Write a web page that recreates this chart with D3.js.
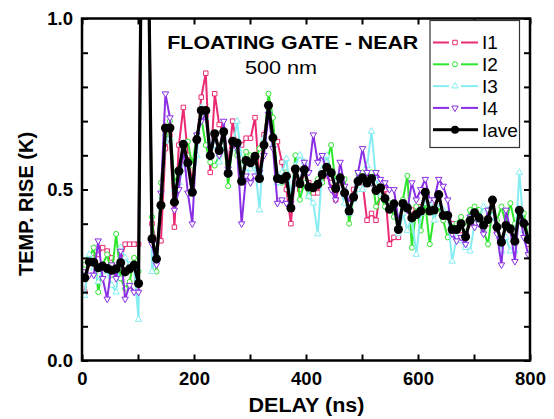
<!DOCTYPE html>
<html>
<head>
<meta charset="utf-8">
<script src="https://cdn.jsdelivr.net/npm/d3@7"></script>
<style>
  html, body { margin: 0; padding: 0; background: #fff; }
  svg { display: block; }
  text { font-family: "Liberation Sans", Arial, Helvetica, sans-serif; }
</style>
</head>
<body>
<svg id="chart" width="554" height="419"></svg>
<script>
// Delay samples (ns)
const delays = [
  5, 13, 21, 29, 37, 45, 53, 61, 69, 77, 85, 93, 101, 109, 117, 125, 133, 141, 149, 157,
  165, 173, 181, 189, 197, 205, 213, 221, 229, 237, 245, 253, 261, 269, 277, 285, 293, 301, 309, 317,
  325, 333, 341, 349, 357, 365, 373, 381, 389, 397, 405, 413, 421, 429, 437, 445, 453, 461, 469, 477,
  485, 493, 501, 509, 517, 525, 533, 541, 549, 557, 565, 573, 581, 589, 597, 605, 613, 621, 629, 637,
  645, 653, 661, 669, 677, 685, 693, 701, 709, 717, 725, 733, 741, 749, 757, 765, 773, 781, 789, 797
];

// Temperature rise (K) for each measurement
const I1 = [
  0.20, 0.29, 0.30, 0.31, 0.33, 0.32, 0.30, 0.26, 0.29, 0.34, 0.34, 0.34, 0.34, 2.10, 1.50, 0.40, 0.34, 0.35, 0.62, 0.66,
  0.39, 0.63, 0.74, 0.60, 0.52, 0.64, 0.77, 0.84, 0.55, 0.78, 0.69, 0.67, 0.57, 0.70, 0.62, 0.63, 0.65, 0.65, 0.71, 0.53,
  0.66, 0.74, 0.65, 0.64, 0.58, 0.50, 0.40, 0.55, 0.50, 0.55, 0.52, 0.49, 0.49, 0.53, 0.54, 0.52, 0.47, 0.52, 0.48, 0.46,
  0.50, 0.52, 0.52, 0.41, 0.43, 0.41, 0.50, 0.50, 0.34, 0.36, 0.36, 0.46, 0.45, 0.44, 0.44, 0.45, 0.48, 0.44, 0.45, 0.48,
  0.43, 0.42, 0.40, 0.38, 0.38, 0.37, 0.40, 0.43, 0.42, 0.40, 0.40, 0.46, 0.38, 0.35, 0.40, 0.38, 0.35, 0.43, 0.40, 0.34
];
const I2 = [
  0.28, 0.30, 0.33, 0.20, 0.28, 0.31, 0.25, 0.37, 0.24, 0.21, 0.23, 0.30, 0.26, 1.90, 1.40, 0.42, 0.26, 0.52, 0.66, 0.70,
  0.52, 0.55, 0.60, 0.64, 0.57, 0.66, 0.71, 0.63, 0.58, 0.57, 0.60, 0.66, 0.51, 0.64, 0.60, 0.57, 0.61, 0.60, 0.58, 0.62,
  0.63, 0.78, 0.71, 0.52, 0.52, 0.55, 0.45, 0.60, 0.47, 0.52, 0.48, 0.51, 0.53, 0.52, 0.58, 0.63, 0.51, 0.54, 0.53, 0.40,
  0.48, 0.55, 0.55, 0.52, 0.55, 0.45, 0.48, 0.45, 0.46, 0.42, 0.40, 0.47, 0.54, 0.33, 0.45, 0.38, 0.46, 0.34, 0.43, 0.45,
  0.41, 0.36, 0.39, 0.40, 0.42, 0.39, 0.44, 0.45, 0.44, 0.38, 0.34, 0.44, 0.41, 0.45, 0.40, 0.46, 0.40, 0.41, 0.43, 0.36
];
const I3 = [
  0.19, 0.31, 0.27, 0.23, 0.27, 0.26, 0.22, 0.20, 0.33, 0.30, 0.28, 0.27, 0.12, 1.80, 1.40, 0.26, 0.31, 0.45, 0.64, 0.65,
  0.50, 0.52, 0.56, 0.58, 0.50, 0.60, 0.74, 0.71, 0.64, 0.63, 0.58, 0.63, 0.56, 0.62, 0.70, 0.59, 0.55, 0.56, 0.57, 0.44,
  0.65, 0.73, 0.63, 0.52, 0.55, 0.59, 0.48, 0.57, 0.60, 0.58, 0.48, 0.46, 0.37, 0.56, 0.60, 0.55, 0.52, 0.50, 0.46, 0.43,
  0.47, 0.50, 0.50, 0.57, 0.67, 0.53, 0.49, 0.47, 0.44, 0.45, 0.37, 0.43, 0.38, 0.42, 0.31, 0.43, 0.47, 0.46, 0.41, 0.46,
  0.44, 0.43, 0.29, 0.36, 0.35, 0.33, 0.32, 0.40, 0.41, 0.45, 0.44, 0.42, 0.39, 0.32, 0.36, 0.32, 0.32, 0.55, 0.38, 0.36
];
const I4 = [
  0.26, 0.25, 0.25, 0.35, 0.24, 0.18, 0.28, 0.24, 0.32, 0.18, 0.22, 0.20, 0.20, 1.90, 1.40, 0.34, 0.28, 0.49, 0.78, 0.71,
  0.44, 0.50, 0.62, 0.49, 0.40, 0.66, 0.70, 0.72, 0.62, 0.66, 0.60, 0.70, 0.56, 0.63, 0.62, 0.40, 0.54, 0.52, 0.54, 0.55,
  0.60, 0.72, 0.62, 0.46, 0.47, 0.46, 0.46, 0.52, 0.52, 0.58, 0.55, 0.66, 0.58, 0.60, 0.55, 0.50, 0.47, 0.58, 0.51, 0.46,
  0.48, 0.55, 0.62, 0.55, 0.52, 0.55, 0.53, 0.52, 0.50, 0.50, 0.41, 0.45, 0.44, 0.52, 0.47, 0.50, 0.53, 0.47, 0.47, 0.53,
  0.51, 0.47, 0.37, 0.35, 0.36, 0.34, 0.42, 0.39, 0.40, 0.37, 0.44, 0.46, 0.37, 0.28, 0.44, 0.38, 0.29, 0.44, 0.36, 0.31
];
const Iave = [
  0.242, 0.288, 0.287, 0.271, 0.276, 0.269, 0.264, 0.268, 0.286, 0.259, 0.268, 0.279, 0.225, 1.900, 1.400, 0.356, 0.297, 0.454, 0.680, 0.680,
  0.463, 0.554, 0.632, 0.578, 0.492, 0.646, 0.731, 0.731, 0.599, 0.663, 0.614, 0.669, 0.547, 0.641, 0.636, 0.524, 0.585, 0.578, 0.597, 0.532,
  0.630, 0.746, 0.651, 0.532, 0.529, 0.539, 0.446, 0.560, 0.517, 0.558, 0.507, 0.505, 0.515, 0.544, 0.565, 0.549, 0.503, 0.534, 0.490, 0.437,
  0.478, 0.524, 0.534, 0.519, 0.532, 0.497, 0.505, 0.474, 0.442, 0.458, 0.383, 0.459, 0.446, 0.417, 0.427, 0.437, 0.492, 0.437, 0.440, 0.485,
  0.424, 0.424, 0.383, 0.383, 0.400, 0.362, 0.409, 0.432, 0.417, 0.396, 0.412, 0.469, 0.390, 0.346, 0.395, 0.385, 0.349, 0.439, 0.401, 0.354
];

const seriesNames = ["I1", "I2", "I3", "I4", "Iave"];
const seriesValues = [I1, I2, I3, I4, Iave];
const seriesColors = ["#ea2a72", "#2ee62e", "#86eef2", "#8a2ee6", "#000000"];
const seriesSymbols = ["square", "circle", "triangleUp", "triangleDown", "dot"];

const xTicks = [0, 100, 200, 300, 400, 500, 600, 700, 800];
const yTicks = [0, 0.1, 0.2, 0.3, 0.4, 0.5, 0.6, 0.7, 0.8, 0.9, 1.0];
const xLabelled = [0, 200, 400, 600, 800];
const yLabelled = [0, 0.5, 1.0];

const svg = d3.select("#chart");
const plotLeft = 82, plotRight = 530, plotTop = 18.5, plotBottom = 360.5;

const x = d3.scaleLinear().domain([0, 800]).range([plotLeft, plotRight]);
const y = d3.scaleLinear().domain([0, 1]).range([plotBottom, plotTop]);

svg.append("defs").append("clipPath").attr("id", "plotClip")
  .append("rect").attr("x", plotLeft).attr("y", plotTop)
  .attr("width", plotRight - plotLeft).attr("height", plotBottom - plotTop);

const plot = svg.append("g").attr("clip-path", "url(#plotClip)");

function markerPath(kind) {
  switch (kind) {
    case "square": return d3.symbol(d3.symbolSquare, 20)();
    case "circle": return d3.symbol(d3.symbolCircle, 20)();
    case "triangleUp": return d3.symbol(d3.symbolTriangle, 18)();
    case "triangleDown": return d3.symbol(d3.symbolTriangle, 18)();
    default: return d3.symbol(d3.symbolCircle, 64)();
  }
}

const line = d3.line().x(d => x(d[0])).y(d => y(d[1]));

seriesValues.forEach((vals, si) => {
  const pts = delays.map((d, i) => [d, vals[i]]);
  const isAve = si === 4;
  const g = plot.append("g");
  g.append("path").datum(pts)
    .attr("d", line)
    .attr("fill", "none")
    .attr("stroke", seriesColors[si])
    .attr("stroke-width", isAve ? 3.2 : 2)
    .attr("stroke-linejoin", "round");
  g.selectAll("path.mk").data(pts).join("path")
    .attr("class", "mk")
    .attr("d", markerPath(seriesSymbols[si]))
    .attr("transform", d => `translate(${x(d[0])},${y(d[1])})` + (seriesSymbols[si] === "triangleDown" ? " rotate(180)" : ""))
    .attr("fill", isAve ? "#000" : "#fff")
    .attr("stroke", seriesColors[si])
    .attr("stroke-width", isAve ? 0 : 1);
});

// Axes with inward ticks on all four sides
const fontAxis = "bold 18.5px 'Liberation Sans', Arial, sans-serif";

const xAxisB = d3.axisBottom(x).tickValues(xTicks).tickSize(-6).tickPadding(11)
  .tickFormat(d => xLabelled.includes(d) ? String(d) : "");
const xAxisT = d3.axisTop(x).tickValues(xTicks).tickSize(-6).tickFormat("");
const yAxisL = d3.axisLeft(y).tickValues(yTicks).tickSize(-6).tickPadding(9)
  .tickFormat(d => yLabelled.some(v => Math.abs(v - d) < 1e-9) ? d3.format(".1f")(d) : "");
const yAxisR = d3.axisRight(y).tickValues(yTicks).tickSize(-6).tickFormat("");

function styleAxis(g) {
  g.select(".domain").remove();
  g.selectAll(".tick line").attr("stroke", "#000").attr("stroke-width", 2);
  g.selectAll(".tick text").style("font", fontAxis).attr("fill", "#000");
}

svg.append("g").attr("transform", `translate(0,${plotBottom})`).call(xAxisB).call(styleAxis);
svg.append("g").attr("transform", `translate(0,${plotTop})`).call(xAxisT).call(styleAxis);
svg.append("g").attr("transform", `translate(${plotLeft},0)`).call(yAxisL).call(styleAxis);
svg.append("g").attr("transform", `translate(${plotRight},0)`).call(yAxisR).call(styleAxis);

// Frame
svg.append("rect")
  .attr("x", plotLeft).attr("y", plotTop)
  .attr("width", plotRight - plotLeft).attr("height", plotBottom - plotTop)
  .attr("fill", "none").attr("stroke", "#000").attr("stroke-width", 2.5);

// Axis titles
svg.append("text")
  .attr("x", 306.5).attr("y", 412)
  .attr("text-anchor", "middle")
  .attr("textLength", 116).attr("lengthAdjust", "spacingAndGlyphs")
  .style("font", "bold 20px 'Liberation Sans', Arial, sans-serif")
  .text("DELAY (ns)");

svg.append("text")
  .attr("transform", "translate(33,204) rotate(-90)")
  .attr("text-anchor", "middle")
  .style("font", "bold 20px 'Liberation Sans', Arial, sans-serif")
  .text("TEMP. RISE (K)");

// Plot heading
svg.append("text")
  .attr("x", 292.8).attr("y", 49)
  .attr("text-anchor", "middle")
  .attr("textLength", 251).attr("lengthAdjust", "spacingAndGlyphs")
  .style("font", "bold 18.5px 'Liberation Sans', Arial, sans-serif")
  .text("FLOATING GATE - NEAR");

svg.append("text")
  .attr("x", 281).attr("y", 74)
  .attr("text-anchor", "middle")
  .attr("textLength", 72).attr("lengthAdjust", "spacingAndGlyphs")
  .style("font", "19px 'Liberation Sans', Arial, sans-serif")
  .text("500 nm");

// Legend
const legend = svg.append("g");
legend.append("rect")
  .attr("x", 430).attr("y", 20.5).attr("width", 89.5).attr("height", 127)
  .attr("fill", "#fff").attr("stroke", "#333").attr("stroke-width", 1.2);

seriesNames.forEach((name, si) => {
  const cy = 42.5 + si * 21.8;
  const isAve = si === 4;
  const row = legend.append("g");
  row.append("line").attr("x1", 433).attr("x2", isAve ? 452 : 449).attr("y1", cy).attr("y2", cy)
    .attr("stroke", seriesColors[si]).attr("stroke-width", isAve ? 3 : 2);
  row.append("line").attr("x1", isAve ? 458 : 461).attr("x2", 478).attr("y1", cy).attr("y2", cy)
    .attr("stroke", seriesColors[si]).attr("stroke-width", isAve ? 3 : 2);
  row.append("path")
    .attr("d", isAve ? d3.symbol(d3.symbolCircle, 50)() : markerPath(seriesSymbols[si]))
    .attr("transform", `translate(455,${cy})` + (seriesSymbols[si] === "triangleDown" ? " rotate(180)" : ""))
    .attr("fill", isAve ? "#000" : "#fff")
    .attr("stroke", seriesColors[si])
    .attr("stroke-width", isAve ? 0 : 1);
  row.append("text")
    .attr("x", 482).attr("y", cy).attr("dy", "0.36em")
    .style("font", "19px 'Liberation Sans', Arial, sans-serif")
    .text(name);
});
</script>
</body>
</html>
